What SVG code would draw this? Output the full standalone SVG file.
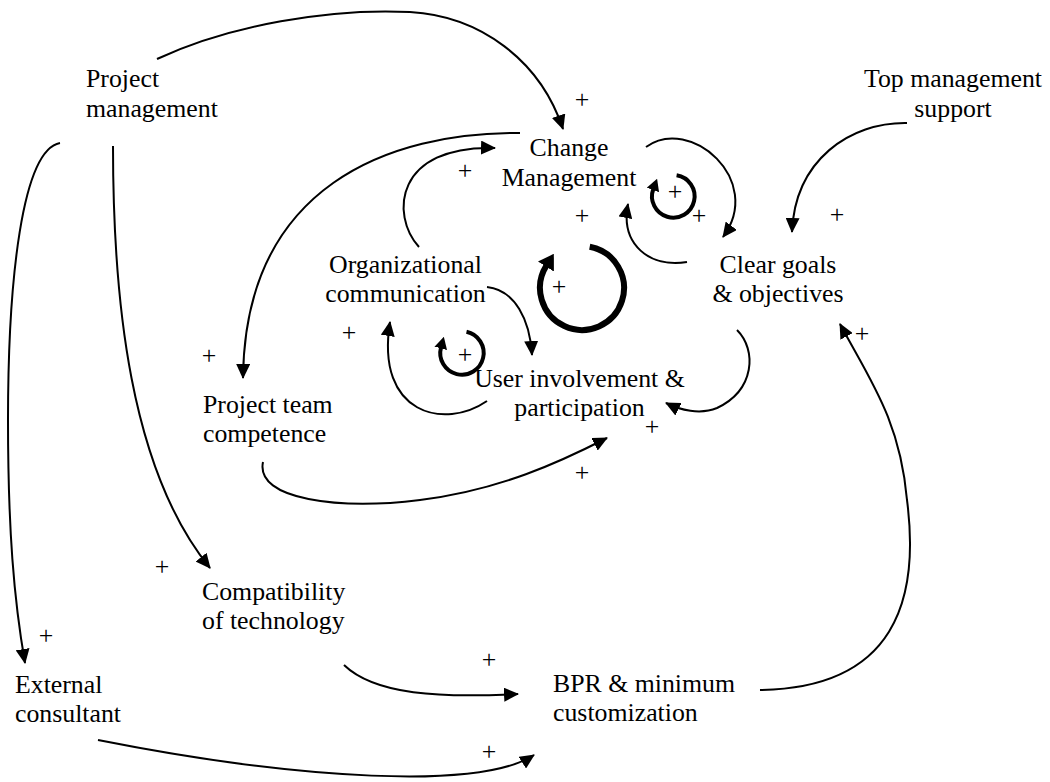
<svg xmlns="http://www.w3.org/2000/svg" width="1050" height="782" viewBox="0 0 1050 782">
<style>
text{font-family:"Liberation Serif","Times New Roman",serif;font-size:25.8px;fill:#000}
.m{text-anchor:middle}
.c{fill:none;stroke:#000;stroke-width:2}
.l4{fill:none;stroke:#000;stroke-width:4}
.l6{fill:none;stroke:#000;stroke-width:6}
</style>
<defs>
<marker id="a" markerUnits="userSpaceOnUse" markerWidth="15" markerHeight="14" viewBox="0 0 15 14" refX="14" refY="7" orient="auto"><path d="M0,0 L15,7 L0,14 z" fill="#000"/></marker>
<marker id="s" markerUnits="userSpaceOnUse" markerWidth="12" markerHeight="13" viewBox="0 0 12 13" refX="1" refY="6.5" orient="auto"><path d="M0,0 L12,6.5 L0,13 z" fill="#000"/></marker>
<marker id="b" markerUnits="userSpaceOnUse" markerWidth="15" markerHeight="19" viewBox="0 0 15 19" refX="1" refY="9.5" orient="auto"><path d="M0,0 L15,9.5 L0,19 z" fill="#000"/></marker>
</defs>
<rect width="1050" height="782" fill="#fff"/>
<g id="connectors">
<path class="c" marker-end="url(#a)" d="M157 59 C230 25 330 8 410 12 C480 16 540 60 563 129"/>
<path class="c" marker-end="url(#a)" d="M60 143 C22 150 8 280 8 420 C8 530 14 600 25 663"/>
<path class="c" marker-end="url(#a)" d="M113 146 C113 300 130 470 210 568"/>
<path class="c" marker-end="url(#a)" d="M344 665 C375 695 440 698 518 694"/>
<path class="c" marker-end="url(#a)" d="M98 740 C300 780 480 790 534 755"/>
<path class="c" marker-end="url(#a)" d="M760 690 C895 688 920 600 907 500 C900 420 870 380 840 324"/>
<path class="c" marker-end="url(#a)" d="M737 330 C757 350 755 390 717 408 C700 415 680 410 666 403"/>
<path class="c" marker-end="url(#a)" d="M263 462 C255 500 340 510 420 500 C500 490 560 462 607 438"/>
<path class="c" marker-end="url(#a)" d="M520 133 C390 132 245 185 243 378"/>
<path class="c" marker-end="url(#a)" d="M419 247 C390 215 395 145 495 148"/>
<path class="c" marker-end="url(#a)" d="M487 287 C515 290 530 320 532 355"/>
<path class="c" marker-end="url(#a)" d="M487 401 C445 430 375 415 390 322"/>
<path class="c" marker-end="url(#a)" d="M646 147 C690 115 765 180 723 237"/>
<path class="c" marker-end="url(#a)" d="M687 262 C650 268 620 245 628 204"/>
<path class="c" marker-end="url(#a)" d="M907 123 C850 122 795 160 792 232"/>
<path class="l6" marker-end="url(#b)" d="M589.7 246.7 A42 42 0 1 1 546.4 265.7"/>
<path class="l4" marker-end="url(#s)" d="M676.6 175.3 A21.3 21.3 0 1 1 653.3 189"/>
<path class="l4" marker-end="url(#s)" d="M466.5 331.8 A21.7 21.7 0 1 1 441 347.4"/>
</g>
<g id="polarities">
<text class="m" x="582" y="107.5">+</text>
<text class="m" x="465" y="178.5">+</text>
<text class="m" x="582" y="223.5">+</text>
<text class="m" x="675" y="200">+</text>
<text class="m" x="699" y="223.5">+</text>
<text class="m" x="837" y="222.5">+</text>
<text class="m" x="559" y="294.5">+</text>
<text class="m" x="349" y="340.5">+</text>
<text class="m" x="465" y="362.5">+</text>
<text class="m" x="209" y="363.5">+</text>
<text class="m" x="652" y="434.5">+</text>
<text class="m" x="582" y="480.5">+</text>
<text class="m" x="862" y="341.5">+</text>
<text class="m" x="162" y="574.5">+</text>
<text class="m" x="46" y="643.5">+</text>
<text class="m" x="489" y="667.5">+</text>
<text class="m" x="489" y="759.5">+</text>
</g>
<g id="project-management"><text x="86" y="87">Project</text><text x="86" y="116.5">management</text></g>
<g id="top-management-support"><text class="m" x="953" y="87">Top management</text><text class="m" x="953" y="116.5">support</text></g>
<g id="change-management"><text class="m" x="569" y="156">Change</text><text class="m" x="569" y="186">Management</text></g>
<g id="clear-goals"><text class="m" x="778" y="273">Clear goals</text><text class="m" x="778" y="302">&amp; objectives</text></g>
<g id="organizational-communication"><text class="m" x="405.5" y="273">Organizational</text><text class="m" x="405.5" y="302">communication</text></g>
<g id="user-involvement"><text class="m" x="579.5" y="387">User involvement &amp;</text><text class="m" x="579.5" y="416">participation</text></g>
<g id="project-team-competence"><text x="203" y="413">Project team</text><text x="203" y="442">competence</text></g>
<g id="compatibility-of-technology"><text x="202" y="600">Compatibility</text><text x="202" y="629">of technology</text></g>
<g id="external-consultant"><text x="15" y="693">External</text><text x="15" y="722">consultant</text></g>
<g id="bpr"><text x="553" y="692">BPR &amp; minimum</text><text x="553" y="721">customization</text></g>
</svg>
